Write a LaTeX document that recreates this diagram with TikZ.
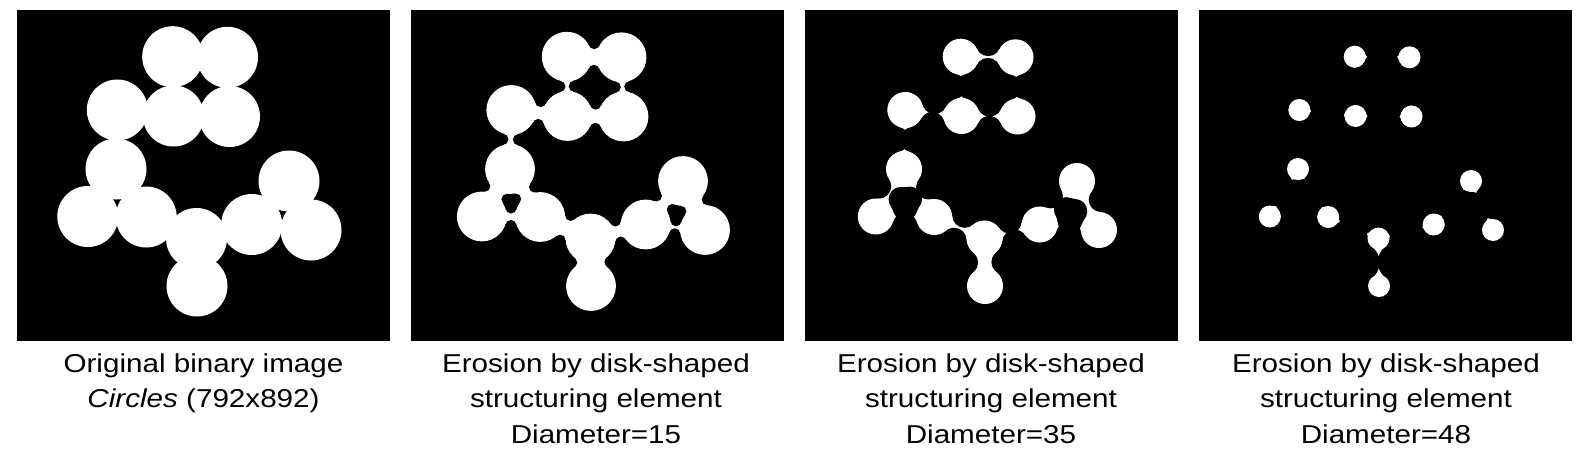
\documentclass[tikz,border=0pt]{standalone}
\usepackage{fontspec}
\setmainfont{Liberation Sans}
\usetikzlibrary{intersections}

\tikzset{
  panel/.style={fill=black},
  blob/.style={fill=white},
  corner/.style={fill=black},
  caption/.style={anchor=north, inner sep=0pt, align=center, xscale=1.145,
    font=\fontsize{19.4}{26.6}\selectfont},
}

% radius of the circles, in pixels
\newcommand\blobr{30.5}
% circle centres, relative to the top left corner of a panel
\newcommand\centres{A/155.7/46.7, B/210.5/47.3, C/100.3/100, D/156.5/106,
  E/212.5/106.5, F/99/159, G/70.8/206.5, H/129.2/207, I/179.5/228.5,
  J/180/276, K/234.7/214.5, L/272/171, M/294/220}
% circles that overlap
\newcommand\overlaps{A/B, A/D, B/E, C/D, D/E, C/F, F/G, F/H, G/H, H/I, I/J,
  I/K, K/L, K/M, L/M}

% #1 = left edge of the panel, #2 = erosion radius, #3 = radius at the corners
\newcommand\erodedpanel[3]{%
\begin{scope}[shift={(#1,10)}]
\fill[panel] (0,0) rectangle (372.5,331);
\foreach \n/\x/\y in \centres {\coordinate (\n) at (\x,\y);}
% necks between overlapping circles
\foreach \a/\b in \overlaps {
  \path[name path=pa] (\a) circle[radius=\blobr];
  \path[name path=pb] (\b) circle[radius=\blobr];
  \path[name intersections={of=pa and pb}];
  \fill[blob] (\a) -- (intersection-1) -- (\b) -- (intersection-2) -- cycle;
}
% the disk does not fit near the corners
\foreach \a/\b in \overlaps {
  \path[name path=pa] (\a) circle[radius=\blobr];
  \path[name path=pb] (\b) circle[radius=\blobr];
  \path[name intersections={of=pa and pb}];
  \fill[corner] (intersection-1) circle[radius=#3] (intersection-2) circle[radius=#3];
}
\foreach \n/\x/\y in \centres {\fill[blob] (\n) circle[radius={\blobr-#2}];}
\end{scope}}

\begin{document}
\begin{tikzpicture}[x=0.75pt,y=0.75pt,yscale=-1,xscale=1]
\useasboundingbox (0,0) rectangle (1586,454);

% Original image
\begin{scope}[shift={(17,10)}]
\fill[panel] (0,0) rectangle (373,331);
\foreach \n/\x/\y in \centres {\fill[blob] (\x,\y) circle[radius=\blobr];}
\end{scope}

% Eroded images
\erodedpanel{411}{5.6}{5.6}
\erodedpanel{805}{12.5}{12.5}
\erodedpanel{1199}{19.5}{20}

% Text Node
\node[caption] (cap1) at (203.5,353.5) {Original binary image\\\textit{Circles} (792x892)};
% Text Node
\node[caption] (cap2) at (596,353.5) {Erosion by disk-shaped\\structuring element\\Diameter=15};
% Text Node
\node[caption] (cap3) at (991,353.5) {Erosion by disk-shaped\\structuring element\\Diameter=35};
% Text Node
\node[caption] (cap4) at (1386,353.5) {Erosion by disk-shaped\\structuring element\\Diameter=48};

\end{tikzpicture}
\end{document}
